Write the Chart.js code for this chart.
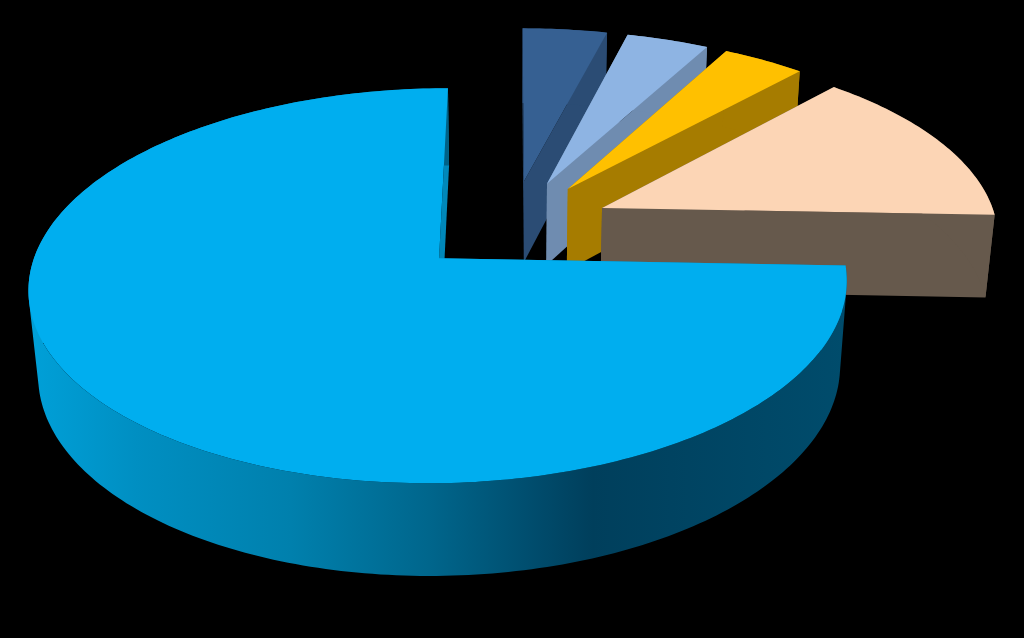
<!DOCTYPE html>
<html>
<head>
<meta charset="utf-8">
<style>html,body{margin:0;padding:0;background:#000;overflow:hidden}#w{width:1024px;height:638px}canvas{display:block}</style>
<script src="https://cdn.jsdelivr.net/npm/chart.js@4"></script>
</head>
<body>
<div id="w"><canvas id="c" width="1024" height="638"></canvas></div>
<script>
const categories = ['Slice 1', 'Slice 2', 'Slice 3', 'Slice 4', 'Slice 5'];
const values = [4.0, 3.9, 3.9, 13.8, 74.4];
const topColors = ['#366092', '#8eb4e3', '#ffc000', '#fcd5b5', '#00aeef'];
const wallColors = ['#2b4c74', '#6f8cb0', '#a67c00', '#66594c', null];
const rimStops = [[0, '#00a0d8'], [0.13, '#008fc2'], [0.32, '#0080ad'], [0.49, '#00668c'], [0.63, '#004a6a'], [0.69, '#003f5c'], [1, '#004c6c']];

// perspective camera fitted to the picture
const cam = { xc: 512, yh: -1135, ax: 405, ay: 1393, p: 0.139, q: 0.02, d: 114, v0: -0.172 };
function project(u, v, z) {
  const w = 1 - cam.p * (v + cam.v0) + cam.q * z;
  return [cam.xc + cam.ax * u / w, cam.yh + (cam.ay + cam.d * z) / w];
}
function area(pts) {
  let s = 0;
  pts.forEach((p, k) => { const q = pts[(k + 1) % pts.length]; s += p[0] * q[1] - q[0] * p[1]; });
  return s;
}

const pie3d = {
  id: 'pie3d',
  beforeDatasetDraw(chart, args, opts) {
    const ctx = chart.ctx;
    const arcs = chart.getDatasetMeta(args.index).data;
    arcs.forEach((arc, i) => {
      const { startAngle: a0, endAngle: a1 } = arc.getProps(['startAngle', 'endAngle'], true);
      const mid = (a0 + a1) / 2;
      const ox = opts.explode * Math.cos(mid), oy = opts.explode * Math.sin(mid);
      const n = Math.max(2, Math.ceil((a1 - a0) / (Math.PI / 180)));
      const rim = z => {
        const pts = [];
        for (let k = 0; k <= n; k++) {
          const a = a0 + (a1 - a0) * k / n;
          pts.push(project(ox + Math.cos(a), oy + Math.sin(a), z));
        }
        return pts;
      };
      const trace = pts => {
        pts.forEach((p, k) => k ? ctx.lineTo(p[0], p[1]) : ctx.moveTo(p[0], p[1]));
        ctx.closePath();
      };
      const fillPoly = (pts, style) => {
        ctx.beginPath();
        trace(pts);
        ctx.fillStyle = style;
        ctx.fill();
      };
      const apexT = project(ox, oy, 0), apexB = project(ox, oy, 1);
      const top = rim(0), bot = rim(1);
      let rimStyle, edgeStyle;
      if (wallColors[i]) {
        rimStyle = edgeStyle = wallColors[i];
      } else {
        const g = ctx.createLinearGradient(opts.gradX0, 0, opts.gradX1, 0);
        rimStops.forEach(s => g.addColorStop(s[0], s[1]));
        rimStyle = g;
        edgeStyle = '#0088ba';
      }
      fillPoly([apexT, top[0], bot[0], apexB], edgeStyle);
      fillPoly([apexT, top[n], bot[n], apexB], edgeStyle);
      // outer wall: one path of same-orientation facets, so no cancelling and no seams
      ctx.beginPath();
      for (let k = 0; k < n; k++) {
        const quad = [top[k], top[k + 1], bot[k + 1], bot[k]];
        trace(area(quad) < 0 ? quad.reverse() : quad);
      }
      ctx.fillStyle = rimStyle;
      ctx.fill('nonzero');
      fillPoly([apexT].concat(top), topColors[i]);
    });
    return false;
  }
};

new Chart(document.getElementById('c'), {
  type: 'pie',
  data: {
    labels: categories,
    datasets: [{ data: values, backgroundColor: topColors, borderWidth: 0 }]
  },
  options: {
    responsive: false,
    animation: false,
    devicePixelRatio: 1,
    layout: { padding: 0 },
    plugins: {
      legend: { display: false },
      tooltip: { enabled: false },
      pie3d: { explode: 0.25, gradX0: 30, gradX1: 845 }
    }
  },
  plugins: [pie3d]
});
</script>
</body>
</html>
